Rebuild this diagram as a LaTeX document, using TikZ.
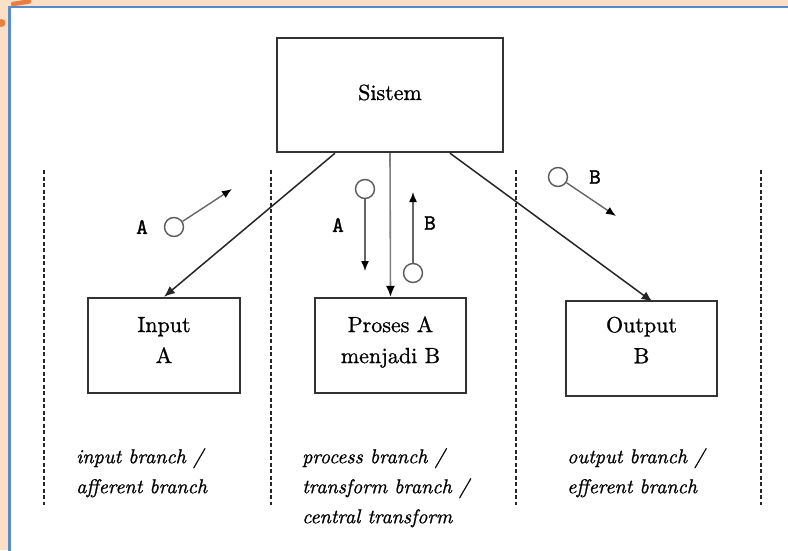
\documentclass[tikz,border=0pt]{standalone}
\usepackage{fontspec}
\newfontfamily\heavyrm{lmroman10-regular.otf}[FakeBold=0.9, ItalicFont=lmroman10-italic.otf, ItalicFeatures={FakeBold=0.9}]
\newfontfamily\heavytt{lmmono10-regular.otf}[FakeBold=1.6]
\usetikzlibrary{arrows.meta}
\definecolor{peach}{HTML}{FBDFC6}
\definecolor{frameblue}{HTML}{5A8BCB}
\definecolor{orng}{HTML}{E97F3F}
\begin{document}
\begin{tikzpicture}[x=1pt,y=-1pt,
  box/.style={draw=black!80, line width=2.4pt, inner sep=0pt},
  boxtext/.style={font=\heavyrm\fontsize{22}{31}\selectfont, align=center, inner sep=0pt},
  branch/.style={font=\heavyrm\fontsize{20}{30}\selectfont\itshape, align=left, anchor=north west, inner sep=0pt},
  divider/.style={line width=1.9pt, black!85, dash pattern=on 4pt off 2.5pt},
  conn/.style={line width=1.5pt, black!85, -{Latex[length=11pt,width=9pt]}},
  connv/.style={line width=1.6pt, black!50, -{Latex[length=11pt,width=9pt,black]}},
  flow/.style={line width=1.4pt, black!60, -{Latex[length=10pt,width=8pt,black]}},
  token/.style={circle, draw=black!65, line width=1.4pt, fill=white, minimum size=19pt, inner sep=0pt},
  flowlbl/.style={font=\heavytt\fontsize{22}{26}\selectfont, inner sep=0pt}
]
\useasboundingbox (0,0) rectangle (788,550);
% background and panel
\fill[peach] (0,0) rectangle (788,550);
\draw[orng, line width=4.5pt, line cap=round] (13,4) -- (29,1.5);
\fill[orng] (1.5,23) circle (4pt);
\draw[frameblue, line width=2.5pt, fill=white] (9.5,7) rectangle (800,560);

% dividers
\foreach \xx in {44,271,516,761} {
  \draw[divider] (\xx,170) -- (\xx,505);
}

% boxes
\node[box, minimum width=226pt, minimum height=114pt] (sistem) at (390,95) {};
\node[boxtext, anchor=base] (sistemtxt) at (390,100) {Sistem};
\node[box, minimum width=152pt, minimum height=95pt] (input) at (164,345.5) {};
\node[boxtext] (inputtxt) at (164,340) {Input\\A};
\node[box, minimum width=151pt, minimum height=95pt] (proses) at (390.5,345.5) {};
\node[boxtext] (prosestxt) at (390.5,342) {Proses A\\menjadi B};
\node[box, minimum width=151pt, minimum height=95pt] (output) at (641.5,348.5) {};
\node[boxtext] (outputtxt) at (641.5,340) {Output\\B};

% main connectors
\draw[conn] ([xshift=-55pt]sistem.south) -- (input.north);
\draw[connv] (sistem.south) -- (proses.north);
\draw[conn] ([xshift=60pt]sistem.south) -- ([xshift=11pt,yshift=-2pt]output.north);

% flow markers
\node[token] (ta) at (174,227) {};
\coordinate (tae) at (232,189);
\draw[flow] (ta) -- (tae);
\node[flowlbl] (la) at (142,227) {A};

\node[token] (tpa) at (365,189) {};
\coordinate (tpae) at (365,271);
\draw[flow] (tpa) -- (tpae);
\node[flowlbl] (lpa) at (338,225) {A};

\node[token] (tpb) at (413,273) {};
\coordinate (tpbe) at (413,192);
\draw[flow] (tpb) -- (tpbe);
\node[flowlbl] (lpb) at (430,223) {B};

\node[token] (tob) at (558,177) {};
\coordinate (tobe) at (616,216);
\draw[flow] (tob) -- (tobe);
\node[flowlbl] (lob) at (595,177) {B};

% branch labels
\node[branch] (bin) at (76,448) {input branch /\\afferent branch};
\node[branch] (bpr) at (302,448) {process branch /\\transform branch /\\central transform};
\node[branch] (bout) at (567,448) {output branch /\\efferent branch};
\end{tikzpicture}
\end{document}
